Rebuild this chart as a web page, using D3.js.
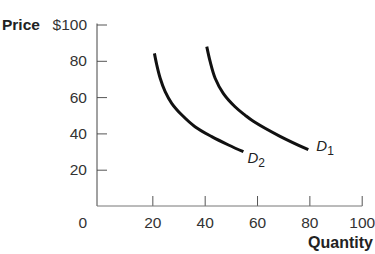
<!DOCTYPE html>
<html>
<head>
<meta charset="utf-8">
<script src="https://cdn.jsdelivr.net/npm/d3@7"></script>
<style>
  body { margin: 0; background: #fff; }
  svg { display: block; font-family: "Liberation Sans", Arial, Helvetica, sans-serif; }
  .axis text { fill: #333; font-size: 15.5px; }
  .axis line { stroke: #555; }
  .curve { fill: none; stroke: #111; stroke-width: 3px; stroke-linecap: butt; }
</style>
</head>
<body>
<script>
// tick values
const quantityTicks = [20, 40, 60, 80, 100];
const priceTicks = [20, 40, 60, 80, 100];

// demand curves (quantity, price)
const d1Quantity = [40.8, 42.1, 44.0, 47.1, 51.6, 55.4, 58.6, 68.8, 79.6];
const d1Price    = [87.8, 79.5, 70.4, 62.1, 54.7, 50.1, 46.7, 38.4, 31.0];
const d2Quantity = [20.8, 21.7, 23.0, 24.9, 27.4, 31.3, 36.3, 42.7, 49.1, 54.8];
const d2Price    = [84.1, 77.7, 70.4, 63.0, 56.6, 50.1, 43.7, 38.2, 33.6, 29.9];

const curves = [
  { name: "D", sub: "1", q: d1Quantity, p: d1Price, dx: 8, dy: 1 },
  { name: "D", sub: "2", q: d2Quantity, p: d2Price, dx: 4, dy: 11 }
];

const width = 375, height = 254;
const axisX = 97, axisY = 206;

const x = d3.scaleLinear().domain([0, 100]).range([100, 361.7]);
const y = d3.scaleLinear().domain([0, 100]).range([axisY, 24.5]);

const svg = d3.select("body").append("svg")
    .attr("width", width)
    .attr("height", height);

// y axis - ticks point inwards, labels on the left
const yAxis = d3.axisLeft(y)
    .tickValues(priceTicks)
    .tickSizeInner(-10)
    .tickSizeOuter(0)
    .tickPadding(10)
    .tickFormat(d => d === 100 ? "$100" : String(d));

svg.append("g")
    .attr("class", "y axis")
    .attr("transform", "translate(" + axisX + ",0)")
    .call(yAxis)
    .call(g => g.select(".domain").remove());

// x axis
const xAxis = d3.axisBottom(x)
    .tickValues(quantityTicks)
    .tickSizeInner(-10)
    .tickSizeOuter(0)
    .tickPadding(11);

svg.append("g")
    .attr("class", "x axis")
    .attr("transform", "translate(0," + axisY + ")")
    .call(xAxis)
    .call(g => g.select(".domain").remove());

// axis lines drawn by hand so they meet at the corner
svg.append("line")
    .attr("x1", axisX).attr("x2", axisX)
    .attr("y1", y(100) - 1).attr("y2", axisY)
    .attr("stroke", "#444");
svg.append("line")
    .attr("x1", axisX).attr("x2", x(100) + 0.5)
    .attr("y1", axisY).attr("y2", axisY)
    .attr("stroke", "#777");

// the "0" at the origin
svg.append("text")
    .attr("x", axisX - 10)
    .attr("y", 228)
    .attr("text-anchor", "end")
    .attr("fill", "#333")
    .style("font-size", "15.5px")
    .text("0");

// axis titles
svg.append("text")
    .attr("x", 2)
    .attr("y", 29.5)
    .attr("fill", "#222")
    .style("font-size", "15.5px")
    .style("font-weight", "bold")
    .text("Price");

svg.append("text")
    .attr("x", 373)
    .attr("y", 248)
    .attr("text-anchor", "end")
    .attr("fill", "#222")
    .style("font-size", "16px")
    .style("font-weight", "bold")
    .text("Quantity");

// curves
const line = d3.line()
    .x(d => x(d[0]))
    .y(d => y(d[1]))
    .curve(d3.curveCatmullRom);

curves.forEach(c => {
    const pts = c.q.map((q, i) => [q, c.p[i]]);
    svg.append("path")
        .datum(pts)
        .attr("class", "curve")
        .attr("d", line);

    const last = pts[pts.length - 1];
    const label = svg.append("text")
        .attr("x", x(last[0]) + c.dx)
        .attr("y", y(last[1]) + c.dy)
        .attr("fill", "#222")
        .style("font-size", "15px")
        .style("font-style", "italic");
    label.append("tspan").text(c.name);
    label.append("tspan")
        .attr("dy", 4)
        .style("font-size", "12px")
        .style("font-style", "normal")
        .text(c.sub);
});
</script>
</body>
</html>
